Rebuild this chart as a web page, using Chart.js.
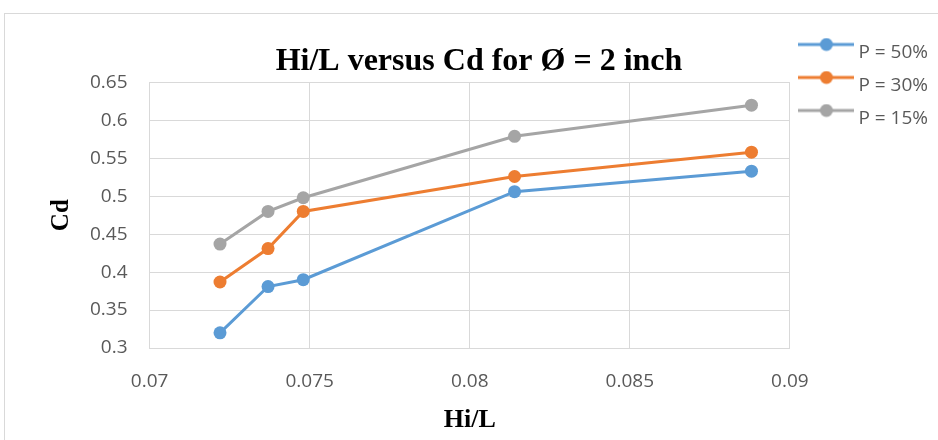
<!DOCTYPE html>
<html>
<head>
    <title>Hi/L versus Cd</title>
    <script src="https://cdn.jsdelivr.net/npm/chart.js"></script>
    <style>
        body { margin: 0; overflow: hidden; background: #fff; }
        #frame { position: absolute; left: 4px; top: 13px; width: 1000px; height: 500px; border: 1px solid #d9d9d9; }
        #cdChart { position: absolute; left: 0; top: 0; }
    </style>
</head>
<body>
    <div id="frame"></div>
    <canvas id="cdChart" width="938" height="440"></canvas>
    <script>
        // Hi/L ratios (shared by all three runs)
        var hiL = [0.0722, 0.0737, 0.0748, 0.0814, 0.0888];
        // discharge coefficient for each P
        var cdP50 = [0.320, 0.381, 0.390, 0.506, 0.533];
        var cdP30 = [0.387, 0.431, 0.480, 0.526, 0.558];
        var cdP15 = [0.437, 0.480, 0.498, 0.579, 0.620];
        var seriesNames = ['P = 50%', 'P = 30%', 'P = 15%'];
        var xTicks = [0.07, 0.075, 0.08, 0.085, 0.09];
        var yTicks = [0.3, 0.35, 0.4, 0.45, 0.5, 0.55, 0.6, 0.65];

        var colors = ['#5b9bd5', '#ed7d31', '#a5a5a5'];
        var tickFont = { family: 'Open Sans', size: 19 };
        var tickColor = '#595959';

        function points(ys) {
            return hiL.map(function (x, i) { return { x: x, y: ys[i] }; });
        }

        // legend sample: short line with a dot, sitting a bit above the text
        function legendMark(color) {
            var c = document.createElement('canvas');
            c.width = 56; c.height = 30;
            var g = c.getContext('2d');
            g.strokeStyle = color;
            g.lineWidth = 3;
            g.beginPath(); g.moveTo(0, 7); g.lineTo(56, 7); g.stroke();
            g.fillStyle = color;
            g.beginPath(); g.arc(28, 7, 6.5, 0, Math.PI * 2); g.fill();
            return c;
        }
        var marks = colors.map(legendMark);

        var datasets = [cdP50, cdP30, cdP15].map(function (ys, i) {
            return {
                label: seriesNames[i],
                data: points(ys),
                borderColor: colors[i],
                backgroundColor: colors[i],
                borderWidth: 3,
                pointRadius: 6.5,
                pointBorderWidth: 0,
                pointHoverRadius: 6.5,
                tension: 0
            };
        });

        var ctx = document.getElementById('cdChart').getContext('2d');
        var cdChart = new Chart(ctx, {
            type: 'line',
            data: { datasets: datasets },
            options: {
                responsive: false,
                animation: false,
                layout: { padding: { top: 29, right: 0, bottom: 0, left: 20 } },
                plugins: {
                    title: {
                        display: true,
                        text: 'Hi/L versus Cd for Ø = 2 inch',
                        color: '#000',
                        font: { family: 'Liberation Serif', size: 32, weight: 'bold' },
                        padding: { top: 14, bottom: 1 }
                    },
                    legend: {
                        position: 'right',
                        align: 'start',
                        labels: {
                            usePointStyle: true,
                            pointStyleWidth: 45,
                            padding: 14,
                            color: tickColor,
                            font: tickFont,
                            generateLabels: function (chart) {
                                var items = Chart.defaults.plugins.legend.labels.generateLabels(chart);
                                items.forEach(function (item, i) { item.pointStyle = marks[i]; });
                                return items;
                            }
                        }
                    },
                    tooltip: { enabled: false }
                },
                scales: {
                    x: {
                        type: 'linear',
                        min: 0.07,
                        max: 0.09,
                        afterBuildTicks: function (s) { s.ticks = xTicks.map(function (v) { return { value: v }; }); },
                        ticks: { color: tickColor, font: tickFont, padding: 22, callback: function (v) { return String(v); } },
                        grid: { color: '#d9d9d9', drawTicks: false },
                        border: { color: '#d9d9d9' },
                        title: {
                            display: true,
                            text: 'Hi/L',
                            color: '#000',
                            font: { family: 'Liberation Serif', size: 26, weight: 'bold' },
                            padding: { top: -10, bottom: 4 }
                        }
                    },
                    y: {
                        min: 0.3,
                        max: 0.65,
                        afterBuildTicks: function (s) { s.ticks = yTicks.map(function (v) { return { value: v }; }); },
                        ticks: { color: tickColor, font: tickFont, padding: 22, callback: function (v) { return String(v); } },
                        grid: { color: '#d9d9d9', drawTicks: false },
                        border: { color: '#d9d9d9' },
                        title: {
                            display: true,
                            text: 'Cd',
                            color: '#000',
                            font: { family: 'Liberation Serif', size: 25, weight: 'bold' },
                            padding: { top: 27, bottom: -9 }
                        }
                    }
                }
            }
        });
    </script>
</body>
</html>
